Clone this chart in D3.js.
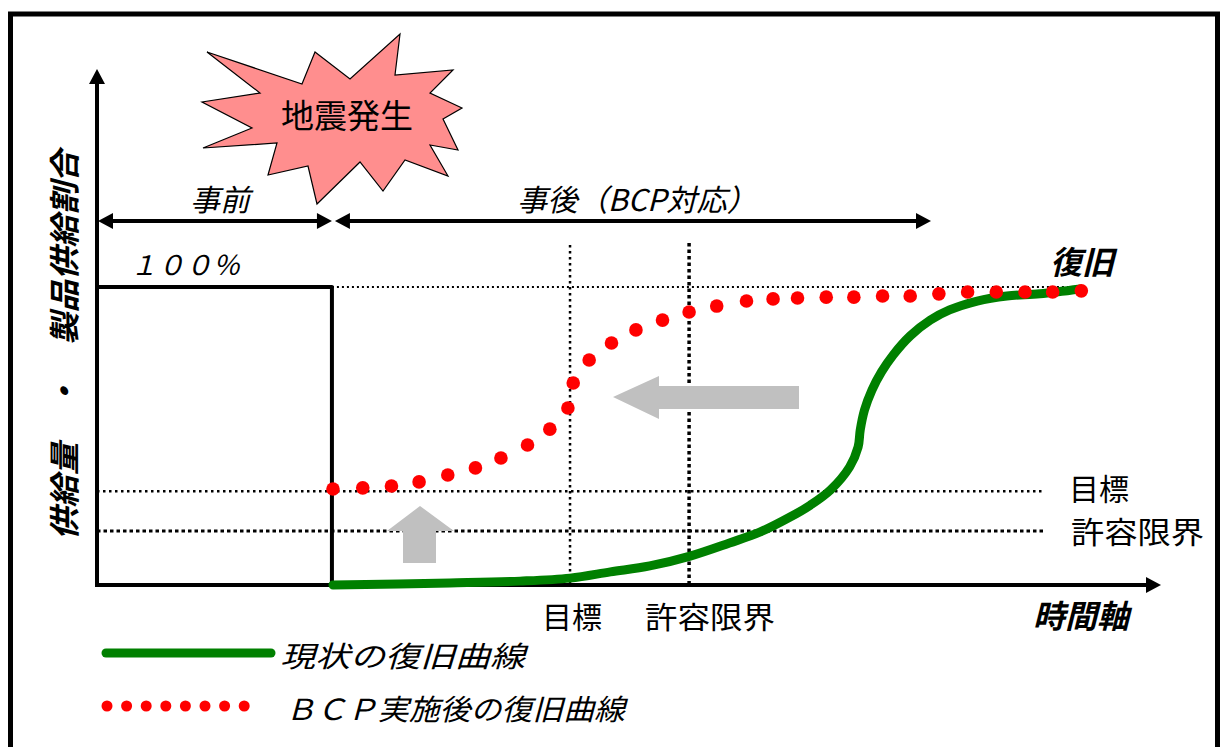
<!DOCTYPE html>
<html><head><meta charset="utf-8">
<script src="https://cdn.jsdelivr.net/npm/d3@7"></script>
<style>html,body{margin:0;padding:0;background:#fff;} svg{display:block;}</style>
</head><body>
<svg id="chart" width="1220" height="747"></svg>
<script>
// ---- data (time units 0..100, supply % 0..100) ----
const eventTime = 22.1;          // 地震発生
const targetTime = 44.5;         // 目標 (time)
const limitTime = 55.7;          // 許容限界 (time)
const targetLevel = 31.5;        // 目標 (supply)
const limitLevel = 18.1;         // 許容限界 (supply)
const recoveryTime = 92.6;

const bcpX = [22.2,25.0,27.7,30.3,33.0,35.6,38.0,40.5,42.6,44.3,44.8,46.3,48.4,50.7,53.2,55.7,58.3,61.1,63.6,65.9,68.6,71.2,73.9,76.5,79.2,81.9,84.6,87.3,89.9,92.6];
const bcpY = [32.2,32.6,33.2,34.6,36.9,39.3,42.6,47.0,52.3,59.4,67.8,75.5,81.2,85.6,88.9,91.6,93.6,95.3,96.0,96.3,96.6,96.6,97.0,97.0,97.7,98.3,98.3,98.3,98.3,98.7];

const curX = [22.2,33.2,39.8,44.5,48.3,52.0,55.8,59.5,62.4,65.2,67.1,69.0,70.8,71.6,71.8,72.2,72.9,73.8,74.9,76.5,78.4,80.2,82.8,85.6,88.7,92.5];
const curY = [0,0.7,1.3,2.3,4.4,6.4,9.7,14.1,17.8,22.8,26.8,31.9,39.6,46.3,52.0,58.7,65.4,71.5,77.2,83.6,88.9,92.3,95.3,97.0,97.7,99.3];

const yLabel = "供給量　・　製品供給割合";
const xLabel = "時間軸";
const legendLabels = ["現状の復旧曲線", "ＢＣＰ実施後の復旧曲線"];
const periodLabels = ["事前", "事後（BCP対応）"];

// ---- layout ----
const svg = d3.select("#chart");
const x = d3.scaleLinear().domain([0, 100]).range([97, 1160]);
const y = d3.scaleLinear().domain([0, 100]).range([585, 287]);
const JP = "'Noto Sans CJK JP','Noto Sans CJK SC',sans-serif";

// frame
svg.append("rect").attr("x", 10.5).attr("y", 14).attr("width", 1207).attr("height", 760)
  .attr("fill", "none").attr("stroke", "#000").attr("stroke-width", 5);

// reference dotted lines
const g = svg.append("g");
g.append("line").attr("x1", x(eventTime)).attr("x2", x(recoveryTime)).attr("y1", y(100)).attr("y2", y(100))
  .attr("stroke", "#000").attr("stroke-width", 2).attr("stroke-dasharray", "2,3");
g.append("line").attr("x1", x(0)).attr("x2", 1045).attr("y1", y(targetLevel)).attr("y2", y(targetLevel))
  .attr("stroke", "#000").attr("stroke-width", 2.5).attr("stroke-dasharray", "2.5,3.5");
g.append("line").attr("x1", x(0)).attr("x2", 1045).attr("y1", y(limitLevel)).attr("y2", y(limitLevel))
  .attr("stroke", "#000").attr("stroke-width", 3).attr("stroke-dasharray", "3.5,3");
g.append("line").attr("x1", x(targetTime)).attr("x2", x(targetTime)).attr("y1", 245).attr("y2", y(0))
  .attr("stroke", "#000").attr("stroke-width", 2.5).attr("stroke-dasharray", "2.5,3.5");
g.append("line").attr("x1", x(limitTime)).attr("x2", x(limitTime)).attr("y1", 243).attr("y2", y(0))
  .attr("stroke", "#000").attr("stroke-width", 3.5).attr("stroke-dasharray", "3.5,3");

// pre-event 100% box
svg.append("path")
  .attr("d", `M${x(0)},${y(100)} L${x(eventTime)},${y(100)} L${x(eventTime)},${y(0)}`)
  .attr("fill", "none").attr("stroke", "#000").attr("stroke-width", 4).attr("stroke-linejoin", "round");

// axes with arrows
svg.append("line").attr("x1", x(0)).attr("x2", x(0)).attr("y1", y(0)+2).attr("y2", 80)
  .attr("stroke", "#000").attr("stroke-width", 4);
svg.append("path").attr("d", `M${x(0)},69 L${x(0)-8},84 L${x(0)+8},84 Z`).attr("fill", "#000");
svg.append("line").attr("x1", x(0)-2).attr("x2", 1148).attr("y1", y(0)).attr("y2", y(0))
  .attr("stroke", "#000").attr("stroke-width", 4);
svg.append("path").attr("d", `M1161,${y(0)} L1146,${y(0)-8} L1146,${y(0)+8} Z`).attr("fill", "#000");

// period double arrows
function dblArrow(x1, x2, yy) {
  svg.append("line").attr("x1", x1+10).attr("x2", x2-10).attr("y1", yy).attr("y2", yy)
    .attr("stroke", "#000").attr("stroke-width", 4);
  svg.append("path").attr("d", `M${x1},${yy} L${x1+15},${yy-8} L${x1+15},${yy+8} Z`).attr("fill", "#000");
  svg.append("path").attr("d", `M${x2},${yy} L${x2-15},${yy-8} L${x2-15},${yy+8} Z`).attr("fill", "#000");
}
dblArrow(x(0)+1, x(eventTime), 221);
dblArrow(x(eventTime)+3, 931, 221);

// starburst
const burst = [[207,52],[302,84],[315,52],[350,79],[400,34],[395,75],[453,70],[430,93],[462,108],[443,119],[458,150],[430,145],[448,176],[405,160],[383,191],[360,162],[317,204],[308,166],[268,175],[277,143],[203,148],[252,128],[202,102],[260,93]];
svg.append("path").attr("d", d3.line()(burst) + "Z")
  .attr("fill", "#ff8e8e").attr("stroke", "#000").attr("stroke-width", 1.2);
svg.append("text").attr("x", 347).attr("y", 128).attr("text-anchor", "middle")
  .attr("font-family", JP).attr("font-size", 33).text("地震発生");

// gray arrows
svg.append("path")
  .attr("d", "M613,397 L659,376 L659,386 L799,386 L799,409 L659,409 L659,419 Z")
  .attr("fill", "#c0c0c0");
svg.append("path")
  .attr("d", "M420,506 L454,531 L436,531 L436,563 L403,563 L403,531 L387,531 Z")
  .attr("fill", "#c0c0c0");

// current recovery curve
const curData = curX.map((d, i) => [d, curY[i]]);
svg.append("path").datum(curData)
  .attr("d", d3.line().x(d => x(d[0])).y(d => y(d[1])).curve(d3.curveCatmullRom.alpha(0.5)))
  .attr("fill", "none").attr("stroke", "#008000").attr("stroke-width", 9)
  .attr("stroke-linecap", "round").attr("stroke-linejoin", "round");

// BCP recovery dots
svg.append("g").selectAll("circle").data(bcpX.map((d, i) => [d, bcpY[i]])).join("circle")
  .attr("cx", d => x(d[0])).attr("cy", d => y(d[1])).attr("r", 6.8).attr("fill", "#ff0000");

// texts
function txt(t, xx, yy, opts = {}) {
  const s = svg.append("text").attr("x", xx).attr("y", yy)
    .attr("font-family", JP).attr("font-size", opts.size || 26)
    .attr("font-style", opts.italic ? "italic" : "normal")
    .attr("font-weight", opts.bold ? "bold" : "normal")
    .attr("text-anchor", opts.anchor || "start").text(t);
  if (opts.len) s.attr("textLength", opts.len).attr("lengthAdjust", "spacingAndGlyphs");
  return s;
}
txt(periodLabels[0], 220, 211, {italic: true, size: 30, anchor: "middle"});
txt(periodLabels[1], 637, 211, {italic: true, size: 30, anchor: "middle", len: 240});
txt("１００％", 130, 275, {italic: true, size: 27, len: 110});
txt("復旧", 1050, 274, {italic: true, bold: true, size: 32});
txt("目標", 1069, 500, {size: 30});
txt("許容限界", 1071, 543, {size: 30, len: 133});
txt("目標", x(targetTime)+2, 628, {size: 30, anchor: "middle"});
txt("許容限界", 710, 628, {size: 30, anchor: "middle", len: 130});
txt(xLabel, 1081, 628, {italic: true, bold: true, size: 32, anchor: "middle"});

// y label (rotated)
svg.append("text").attr("transform", "translate(76,345) rotate(-90)")
  .attr("text-anchor", "middle").attr("font-family", JP).attr("font-size", 31)
  .attr("font-weight", "bold").attr("font-style", "italic")
  .attr("textLength", 390).attr("lengthAdjust", "spacingAndGlyphs").text(yLabel);

// legend
svg.append("line").attr("x1", 106).attr("x2", 271).attr("y1", 653).attr("y2", 653)
  .attr("stroke", "#008000").attr("stroke-width", 9).attr("stroke-linecap", "round");
txt(legendLabels[0], 280, 667, {italic: true, size: 29, len: 245});
svg.append("g").selectAll("circle").data(d3.range(8)).join("circle")
  .attr("cx", i => 107 + i * 19.6).attr("cy", 706).attr("r", 5.5).attr("fill", "#ff0000");
txt(legendLabels[1], 285, 720, {italic: true, size: 29, len: 340});
</script>
</body></html>
